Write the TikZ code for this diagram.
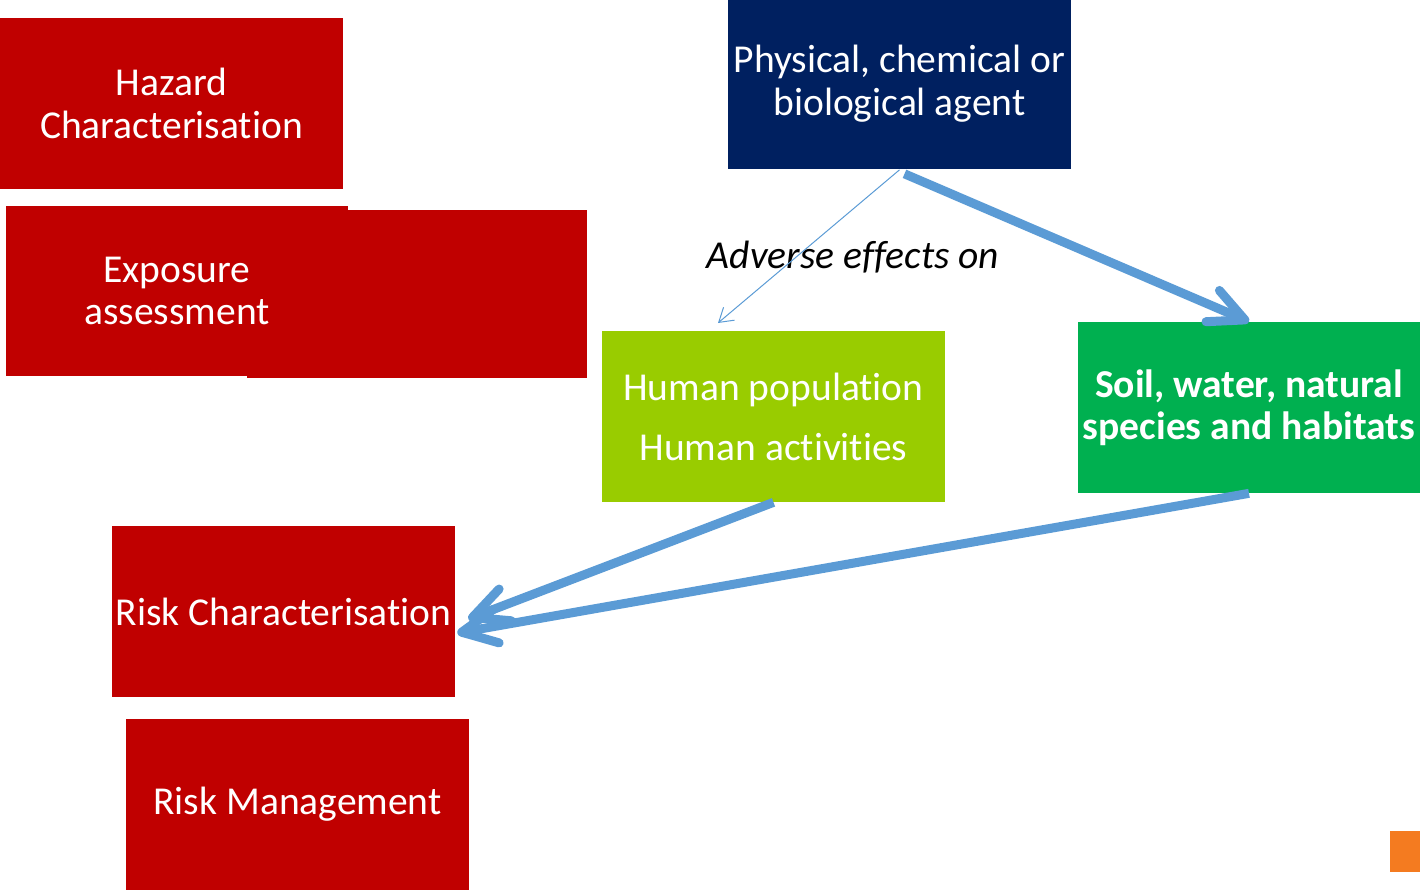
\documentclass[tikz,border=0pt]{standalone}
\usepackage{fontspec}
\setmainfont[Ligatures=NoCommon]{Carlito}
\usetikzlibrary{arrows.meta}
\definecolor{riskred}{RGB}{192,0,0}
\definecolor{agentblue}{RGB}{0,32,96}
\definecolor{humangreen}{RGB}{153,204,0}
\definecolor{soilgreen}{RGB}{0,176,80}
\definecolor{arrowblue}{RGB}{91,155,213}
\definecolor{cornerorange}{RGB}{244,123,32}
\tikzset{
	box/.style={minimum width=6.86cm,minimum height=3.42cm,inner sep=0pt,align=center,text=white,font=\fontsize{22.5}{24.4}\selectfont},
	bigarrow/.style={draw=arrowblue,line width=0.18cm,-{Straight Barb[length=0.7cm,width=0.68cm,round]}},
	thinarrow/.style={draw=arrowblue,line width=0.02cm,-{Straight Barb[length=0.27cm,width=0.34cm]}}
}
\begin{document}
\begin{tikzpicture}[x=0.02cm,y=-0.02cm]
			\useasboundingbox (0,0) rectangle (1420,892);
			%left column
			\fill[riskred](247,210)rectangle(587,378);
			\node[box,fill=riskred] (hazard) at (171.5,103.5) {Hazard\\Characterisation};
			\node[box,fill=riskred] (exposure) at (177,291) {Exposure\\assessment};
			\node[box,fill=riskred] (riskchar) at (283.5,611.5) {Risk Characterisation};
			\node[box,fill=riskred] (riskman) at (297.5,804.5) {Risk Management};
			%agent and targets
			\node[box,fill=agentblue] (agent) at (899.5,84) {Physical, chemical or\\biological agent};
			\node[box,fill=humangreen] (human) at (773.5,416.5) {Human population\\[0.34cm]Human activities};
			\node[box,fill=soilgreen,font=\fontsize{22.5}{23.8}\bfseries] (soil) at (1249,407.5) {Soil, water, natural\\species and habitats};
			\node[font=\fontsize{22.5}{24.4}\itshape] (adverse) at (853,257) {Adverse effects on};
			%arrows
			\coordinate (humantip) at (718,323);
			\coordinate (tipA) at ([shift={(0.26cm,-0.15cm)}]riskchar.east);
			\coordinate (tipB) at ([shift={(0.04cm,-0.43cm)}]riskchar.east);
			\draw[thinarrow](agent.south)--(humantip);
			\draw[bigarrow]([shift={(0.1cm,-0.08cm)}]agent.south)--(soil.north);
			\draw[bigarrow](human.south)--(tipA);
			\draw[bigarrow](soil.south)--(tipB);
			%corner mark
			\fill[cornerorange](1390,831)rectangle(1420,872);
		\end{tikzpicture}
\end{document}
